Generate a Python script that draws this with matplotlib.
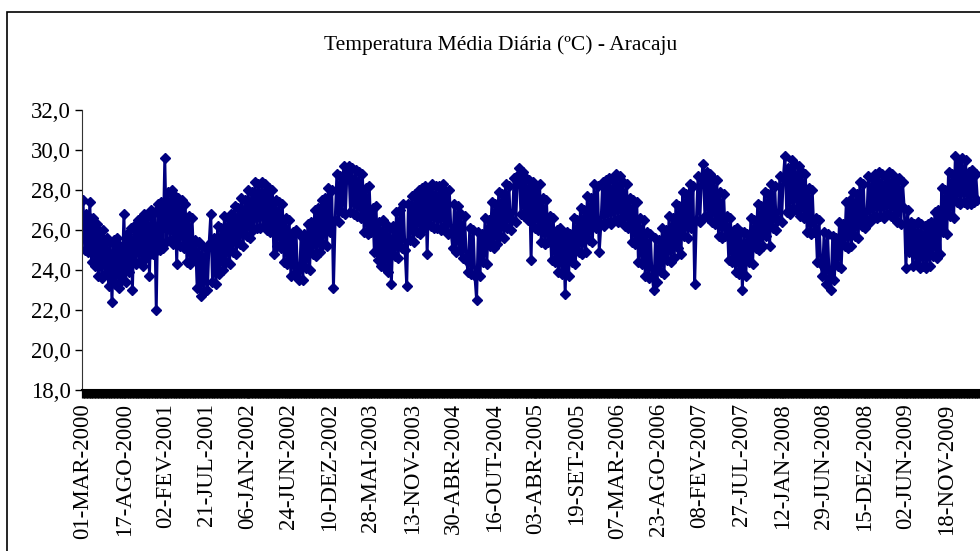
import numpy as np
import matplotlib
matplotlib.use("Agg")
import matplotlib.pyplot as plt
from matplotlib.ticker import MultipleLocator, FixedLocator, FixedFormatter
from matplotlib.patches import Rectangle

# weekly readings (°C), each season starts on 1 March
temp_2000 = [27.5, 25.0, 26.8, 24.9, 27.4, 24.4, 26.6, 24.2, 26.3,
             23.7, 25.9, 23.6, 26.0, 23.8, 25.6, 23.2, 25.4, 22.4,
             25.5, 23.3, 25.6, 23.1, 25.2, 23.5, 26.8, 23.4, 25.8,
             23.9, 26.1, 23.0, 26.2, 24.3, 26.5, 24.4, 26.6, 24.2,
             26.8, 24.6, 26.7, 23.7, 27.0, 24.8, 26.9, 22.0,
             27.3, 25.0, 27.4, 25.1, 29.6, 25.4, 27.9, 25.5]
temp_2001 = [28.0, 25.3, 27.7, 24.3, 27.6, 25.2, 27.5, 25.1, 27.3,
             24.4, 26.7, 24.3, 26.6, 24.5, 25.5, 23.1, 25.4, 22.7,
             25.2, 22.9, 25.1, 23.0, 25.3, 26.8, 23.4, 25.6, 23.3,
             26.2, 23.8, 26.1, 24.0, 26.7, 24.4, 26.6, 24.3, 26.8,
             24.9, 27.2, 24.8, 27.1, 25.3, 27.6, 25.2, 27.5,
             25.7, 28.0, 25.6, 27.9, 26.0, 28.4, 26.1, 28.3]
temp_2002 = [26.1, 28.4, 26.2, 28.3, 26.0, 28.1, 25.9, 28.0, 24.8,
             27.5, 25.2, 27.4, 25.1, 27.3, 24.4, 26.6, 24.3, 26.5,
             23.7, 25.9, 23.8, 26.0, 23.6, 23.5, 25.7, 23.5, 25.8,
             24.1, 26.3, 24.0, 26.4, 24.8, 27.0, 24.7, 27.1, 24.9,
             27.5, 25.3, 27.6, 25.2, 28.1, 25.9, 28.0, 23.1,
             26.5, 28.8, 26.4, 28.7, 26.9, 29.2, 26.8, 29.0]
temp_2003 = [29.2, 26.9, 29.1, 26.8, 29.0, 26.7, 28.9, 26.6, 28.8,
             25.9, 28.1, 25.8, 28.2, 25.9, 27.1, 24.9, 27.2, 24.5,
             26.4, 24.2, 26.5, 24.1, 26.3, 23.9, 26.1, 23.3, 26.2,
             24.7, 26.9, 24.6, 27.0, 25.1, 27.3, 25.0, 23.2, 27.3,
             25.5, 27.7, 25.4, 27.8, 25.9, 28.0, 25.8, 28.1,
             26.1, 28.2, 24.8, 28.1, 26.2, 28.3, 26.1, 28.2]
temp_2004 = [26.1, 28.2, 26.0, 28.3, 26.2, 27.9, 25.8, 28.0, 25.9,
             25.1, 27.3, 24.9, 27.2, 25.0, 26.8, 24.6, 26.7, 24.5,
             23.9, 26.1, 23.8, 26.0, 23.7, 22.5, 25.9, 23.7, 25.8,
             24.4, 26.6, 24.3, 26.5, 25.2, 27.4, 25.1, 27.3, 25.3,
             27.9, 25.7, 27.8, 25.6, 28.3, 26.1, 28.2, 26.0,
             26.5, 28.6, 26.4, 28.7, 29.1, 26.8, 28.9, 26.7]
temp_2005 = [28.6, 26.5, 28.5, 24.5, 28.4, 26.1, 28.2, 26.0, 28.3,
             25.4, 27.6, 25.3, 27.5, 25.4, 26.7, 24.5, 26.6, 24.4,
             26.0, 23.9, 26.1, 23.8, 25.9, 22.8, 25.9, 23.7, 25.8,
             24.4, 26.6, 24.3, 26.5, 24.9, 27.1, 24.8, 27.0, 24.9,
             27.7, 25.5, 27.6, 25.4, 28.3, 26.1, 28.2, 24.9,
             26.3, 28.4, 26.2, 28.5, 26.4, 28.6, 26.3, 28.5]
temp_2006 = [26.5, 28.8, 26.4, 28.7, 26.6, 28.4, 26.2, 28.3, 26.1,
             27.6, 25.4, 27.5, 25.3, 27.4, 24.4, 26.6, 24.3, 26.5,
             23.7, 25.9, 23.6, 25.8, 23.7, 23.0, 25.6, 23.4, 25.5,
             23.9, 26.1, 23.8, 26.0, 24.5, 26.7, 24.4, 26.6, 24.6,
             27.3, 25.1, 27.2, 24.8, 27.9, 25.7, 27.8, 25.6,
             28.3, 26.1, 28.2, 23.3, 26.5, 28.7, 26.4, 28.6]
temp_2007 = [29.3, 26.7, 28.9, 26.6, 28.8, 26.4, 28.6, 26.3, 28.5,
             25.7, 27.9, 25.6, 27.8, 25.7, 26.7, 24.5, 26.6, 24.4,
             26.0, 23.9, 26.1, 23.8, 25.9, 23.0, 25.9, 23.7, 25.8,
             24.4, 26.6, 24.3, 26.5, 25.1, 27.3, 25.0, 27.2, 25.2,
             27.9, 25.7, 27.8, 25.2, 28.3, 26.1, 28.2, 26.0,
             26.5, 28.7, 26.4, 28.6, 29.7, 26.9, 29.1, 26.8]
temp_2008 = [29.5, 27.1, 29.3, 27.0, 29.2, 26.7, 28.9, 26.6, 28.8,
             25.9, 28.1, 25.8, 28.0, 25.9, 26.6, 24.4, 26.5, 24.3,
             23.7, 25.9, 23.3, 25.8, 23.6, 23.0, 25.7, 23.5, 25.6,
             24.2, 26.4, 24.1, 26.3, 25.2, 27.4, 25.1, 27.5, 25.2,
             27.9, 25.7, 27.8, 25.6, 28.4, 26.2, 28.3, 26.1,
             26.5, 28.7, 26.4, 28.6, 26.7, 28.8, 26.6, 28.9]
temp_2009 = [26.7, 28.8, 26.6, 28.7, 26.8, 28.9, 26.7, 28.8, 26.6,
             28.5, 26.4, 28.6, 26.3, 28.4, 27.1, 24.1, 27.0, 24.9,
             26.4, 24.2, 26.3, 24.3, 26.4, 24.1, 26.3, 24.2, 26.2,
             24.1, 26.3, 24.2, 26.4, 24.7, 26.9, 24.6, 27.0, 24.8,
             28.1, 25.9, 28.0, 25.8, 28.9, 26.7, 28.8, 26.6,
             29.7, 27.4, 29.5, 27.3, 29.6, 27.4, 29.5, 27.3]
temp_2010 = [28.9, 27.3, 29.0, 27.4, 28.8, 27.5]

tick_labels = ["01-MAR-2000", "17-AGO-2000", "02-FEV-2001", "21-JUL-2001",
               "06-JAN-2002", "24-JUN-2002", "10-DEZ-2002", "28-MAI-2003",
               "13-NOV-2003", "30-ABR-2004", "16-OUT-2004", "03-ABR-2005",
               "19-SET-2005", "07-MAR-2006", "23-AGO-2006", "08-FEV-2007",
               "27-JUL-2007", "12-JAN-2008", "29-JUN-2008", "15-DEZ-2008",
               "02-JUN-2009", "18-NOV-2009"]

temps = np.array(temp_2000 + temp_2001 + temp_2002 + temp_2003 + temp_2004 +
                 temp_2005 + temp_2006 + temp_2007 + temp_2008 + temp_2009 +
                 temp_2010)
days = np.arange(len(temps)) * 7

plt.rcParams['font.family'] = ['Liberation Serif', 'DejaVu Serif']

W, H = 980, 551
fig = plt.figure(figsize=(W / 100, H / 100), dpi=100)
fig.patch.set_facecolor('white')

ax = fig.add_axes([82 / W, 1 - 390 / H, (1000 - 82) / W, 280 / H])
ax.plot(days, temps, color='#000080', lw=2.1, marker='D', markersize=5.4,
        markerfacecolor='#000080', markeredgecolor='#000080')

px_per_day = 0.2434
ax.set_xlim(-1 / px_per_day, (1000 - 83) / px_per_day)
ax.set_ylim(18, 32)

ax.yaxis.set_major_locator(MultipleLocator(2))
ax.yaxis.set_major_formatter(plt.FuncFormatter(lambda v, p: f"{v:.1f}".replace('.', ',')))
ax.tick_params(axis='y', direction='out', length=5, width=1, labelsize=16.5, pad=3)

ax.xaxis.set_major_locator(FixedLocator([169 * k for k in range(len(tick_labels))]))
ax.xaxis.set_major_formatter(FixedFormatter(tick_labels))
ax.xaxis.set_minor_locator(MultipleLocator(3))
ax.tick_params(axis='x', which='both', direction='out', length=5.5, width=0.9,
               color='black', labelsize=16.5, labelrotation=90, pad=4)

for s in ['top', 'right']:
    ax.spines[s].set_visible(False)
ax.spines['left'].set_color('#333333')
ax.spines['bottom'].set_linewidth(1.5)

fig.text(501 / W, 1 - 45 / H, "Temperatura Média Diária (ºC) - Aracaju",
         ha='center', va='center', fontsize=15.5)

fig.patches.append(Rectangle((7 / W, -0.5), 2, 1.5 - 12 / H, transform=fig.transFigure,
                             fill=False, edgecolor='black', lw=1.2, clip_on=False))

fig.savefig('out.png', dpi=100)
